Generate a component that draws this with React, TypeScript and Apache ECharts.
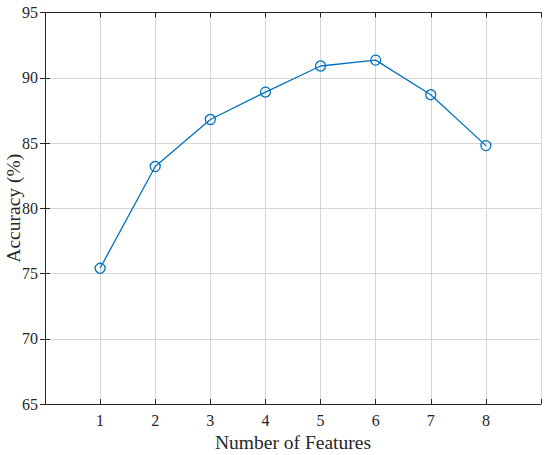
import React, { useEffect, useRef } from "react";
import * as echarts from "echarts";

const features = [1, 2, 3, 4, 5, 6, 7, 8];
const accuracy = [75.4, 83.2, 86.8, 88.9, 90.9, 91.35, 88.7, 84.8];
const yTicks = [65, 70, 75, 80, 85, 90, 95];

const FONT = "Liberation Serif";
const AXIS_COLOR = "#262626";
const GRID_COLOR = "#d6d6d6";
const LINE_COLOR = "#0072BD";

export default function App() {
  const ref = useRef<HTMLDivElement>(null);
  useEffect(() => {
    if (!ref.current) return;
    const chart = echarts.init(ref.current, null, { renderer: "svg" });
    const axisLine = { show: true, lineStyle: { color: AXIS_COLOR, width: 1 } };
    const axisTick = { show: true, inside: true, length: 5, lineStyle: { color: AXIS_COLOR, width: 1 } };
    chart.setOption({
      animation: false,
      backgroundColor: "#ffffff",
      grid: { left: 45, right: 9, top: 12.5, bottom: 51, containLabel: false, outerBoundsMode: "none" },
      xAxis: [
        {
          type: "value",
          position: "bottom",
          min: 0,
          max: 9,
          interval: 1,
          name: "Number of Features",
          nameLocation: "middle",
          nameGap: 25,
          nameTextStyle: { fontFamily: FONT, fontSize: 19.5, color: AXIS_COLOR },
          axisLine,
          axisTick,
          axisLabel: {
            fontFamily: FONT,
            fontSize: 16,
            color: AXIS_COLOR,
            margin: 8,
            formatter: (v: number) => (features.includes(v) ? String(v) : ""),
          },
          splitLine: { show: true, lineStyle: { color: GRID_COLOR, width: 1 } },
        },
        {
          type: "value",
          position: "top",
          min: 0,
          max: 9,
          interval: 1,
          axisLine,
          axisTick,
          axisLabel: { show: false },
          splitLine: { show: false },
        },
      ],
      yAxis: [
        {
          type: "value",
          position: "left",
          min: yTicks[0],
          max: yTicks[yTicks.length - 1],
          interval: 5,
          name: "Accuracy (%)",
          nameLocation: "middle",
          nameGap: 22,
          nameMoveOverlap: false,
          nameTextStyle: { fontFamily: FONT, fontSize: 19.5, color: AXIS_COLOR },
          axisLine,
          axisTick,
          axisLabel: { fontFamily: FONT, fontSize: 16, color: AXIS_COLOR, margin: 7 },
          splitLine: { show: true, lineStyle: { color: GRID_COLOR, width: 1 } },
        },
        {
          type: "value",
          position: "right",
          min: yTicks[0],
          max: yTicks[yTicks.length - 1],
          interval: 5,
          axisLine,
          axisTick,
          axisLabel: { show: false },
          splitLine: { show: false },
        },
      ],
      series: [
        {
          type: "line",
          data: features.map((f, i) => [f, accuracy[i]]),
          symbol: "circle",
          symbolSize: 10,
          lineStyle: { color: LINE_COLOR, width: 1.3 },
          itemStyle: { color: "rgba(255,255,255,0)", borderColor: LINE_COLOR, borderWidth: 1.3 },
        },
      ],
    });
    return () => chart.dispose();
  }, []);
  return <div ref={ref} style={{ width: 550, height: 455, position: "absolute", left: 0, top: 0 }} />;
}
